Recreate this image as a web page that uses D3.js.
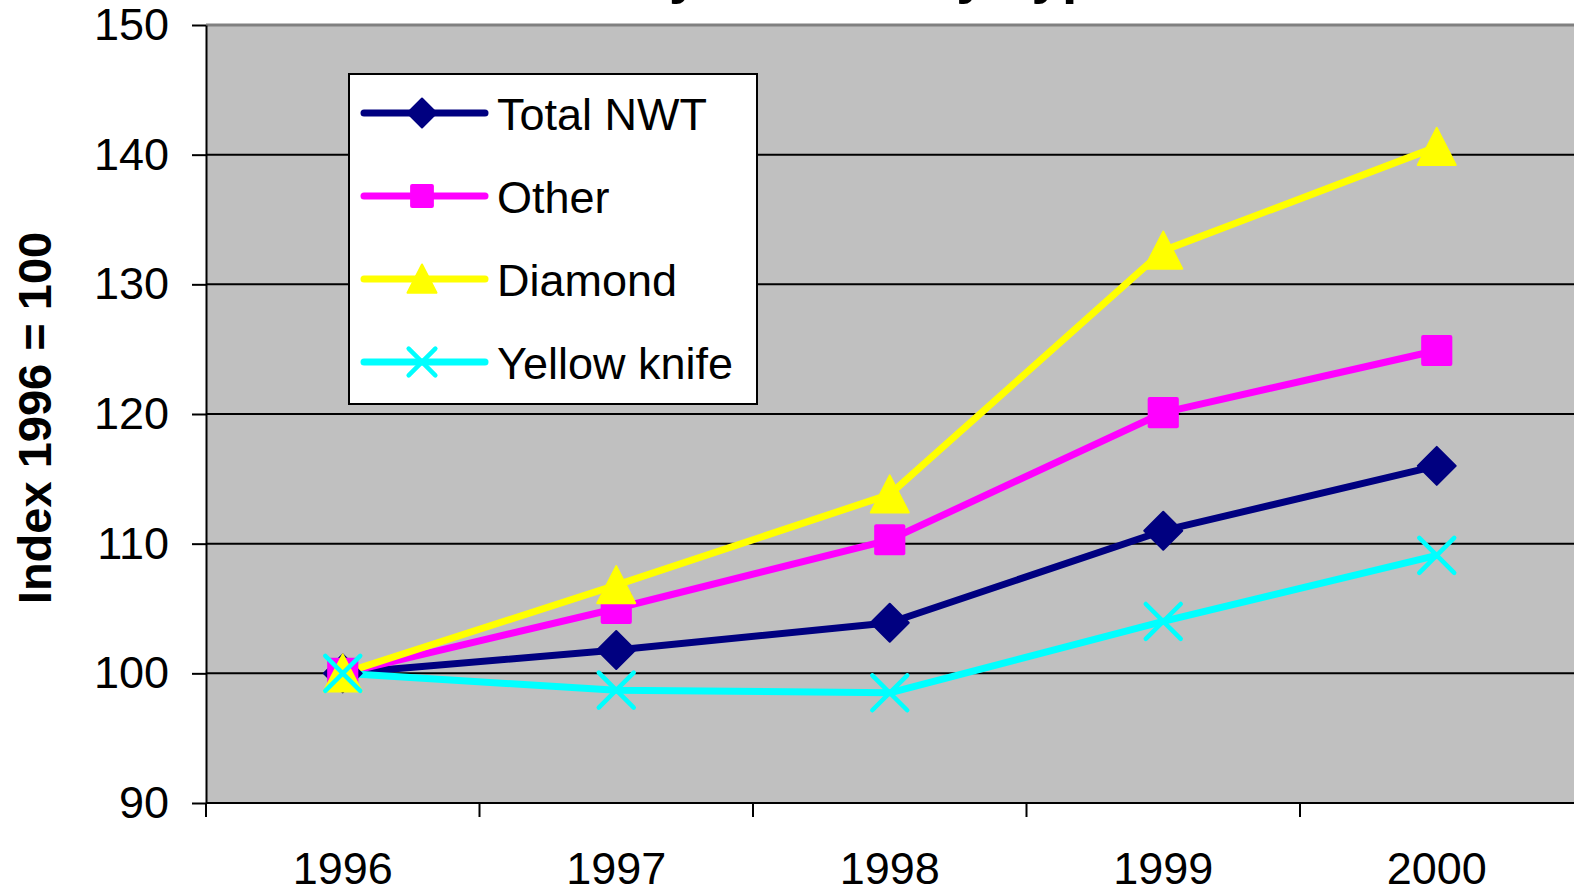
<!DOCTYPE html>
<html>
<head>
<meta charset="utf-8">
<script src="https://cdn.jsdelivr.net/npm/d3@7"></script>
<style>
  body { margin: 0; background: #fff; }
  svg { display: block; font-family: "Liberation Sans", Arial, sans-serif; }
</style>
</head>
<body>
<div id="chart"></div>
<script>
// ---- data ----
const years = ["1996", "1997", "1998", "1999", "2000"];
const yTicks = [90, 100, 110, 120, 130, 140, 150];

const totalNWT    = [100, 101.8, 103.9, 111.0, 116.0];
const other       = [100, 105.0, 110.3, 120.1, 124.9];
const diamond     = [100, 106.8, 113.8, 132.6, 140.6];
const yellowknife = [100, 98.7, 98.5, 104.0, 109.1];

const seriesNames = ["Total NWT", "Other", "Diamond", "Yellow knife"];
const seriesColors = ["#000080", "#FF00FF", "#FFFF00", "#00FFFF"];
const seriesMarkers = ["diamond", "square", "triangle", "cross"];

const series = [totalNWT, other, diamond, yellowknife].map((vals, i) => ({
  name: seriesNames[i],
  color: seriesColors[i],
  marker: seriesMarkers[i],
  values: vals.map((v, j) => ({ year: years[j], value: v }))
}));

const W = 1574, H = 892;
const plot = { left: 206, right: 1573.5, top: 25, bottom: 803 };

const svg = d3.select("#chart").append("svg")
  .attr("width", W)
  .attr("height", H);

// title (mostly cut off above the picture)
svg.append("text")
  .attr("x", 397)
  .attr("y", -8)
  .style("font-size", "55px")
  .style("font-weight", "bold")
  .text("Community Growth by Type");

/* -------------------- SCALES -------------------- */

const x = d3.scaleBand()
  .domain(years)
  .range([plot.left, plot.right])
  .padding(0);

const y = d3.scaleLinear()
  .domain([90, 150])
  .range([plot.bottom, plot.top]);

/* -------------------- PLOT AREA -------------------- */

svg.append("rect")
  .attr("x", plot.left)
  .attr("y", plot.top)
  .attr("width", W - plot.left + 10)
  .attr("height", plot.bottom - plot.top)
  .style("fill", "#C0C0C0");

// grey border along the top of the plot area
svg.append("line")
  .attr("x1", plot.left).attr("x2", W + 10)
  .attr("y1", plot.top).attr("y2", plot.top)
  .style("stroke", "#808080")
  .style("stroke-width", 3);

// gridlines
svg.append("g")
  .selectAll("line")
  .data(yTicks.filter(d => d > 90 && d < 150))
  .join("line")
  .attr("x1", plot.left).attr("x2", W + 10)
  .attr("y1", d => y(d)).attr("y2", d => y(d))
  .style("stroke", "#000")
  .style("stroke-width", 2);

/* -------------------- AXES -------------------- */

const yAxis = svg.append("g")
  .attr("transform", `translate(${plot.left}, 0)`)
  .call(d3.axisLeft(y).tickValues(yTicks).tickSize(14).tickSizeOuter(0).tickPadding(23));
yAxis.select(".domain").style("stroke", "#000").style("stroke-width", 2);
yAxis.selectAll(".tick line").style("stroke", "#000").style("stroke-width", 2);
yAxis.selectAll("text")
  .style("font-size", "45px")
  .style("font-family", "'Liberation Sans', Arial, sans-serif")
  .style("fill", "#000");

const xAxis = svg.append("g")
  .attr("transform", `translate(0, ${plot.bottom})`)
  .call(d3.axisBottom(x).tickSize(0).tickPadding(49));
xAxis.select(".domain").remove();
xAxis.selectAll("text")
  .style("font-size", "45px")
  .style("font-family", "'Liberation Sans', Arial, sans-serif")
  .style("fill", "#000");

// x axis line + category boundary ticks
svg.append("line")
  .attr("x1", plot.left).attr("x2", W + 10)
  .attr("y1", plot.bottom).attr("y2", plot.bottom)
  .style("stroke", "#000")
  .style("stroke-width", 2);

svg.append("g")
  .selectAll("line")
  .data(years)
  .join("line")
  .attr("x1", d => x(d)).attr("x2", d => x(d))
  .attr("y1", plot.bottom).attr("y2", plot.bottom + 14)
  .style("stroke", "#000")
  .style("stroke-width", 2);

// y axis title
svg.append("text")
  .attr("transform", "translate(51, 418) rotate(-90)")
  .attr("text-anchor", "middle")
  .style("font-size", "47px")
  .style("font-weight", "bold")
  .text("Index 1996 = 100");

/* -------------------- MARKERS -------------------- */

function drawMarker(g, type, color, s) {
  // s = half size of the marker box
  if (type === "diamond") {
    g.append("path")
      .attr("d", `M0,${-s}L${s},0L0,${s}L${-s},0Z`)
      .style("fill", color).style("stroke", color)
      .style("stroke-width", 2).style("stroke-linejoin", "round");
  } else if (type === "square") {
    const h = s * 0.82;
    g.append("rect")
      .attr("x", -h).attr("y", -h)
      .attr("width", 2 * h).attr("height", 2 * h)
      .attr("rx", 2)
      .style("fill", color);
  } else if (type === "triangle") {
    g.append("path")
      .attr("d", `M0,${-s}L${s},${s * 0.95}L${-s},${s * 0.95}Z`)
      .style("fill", color).style("stroke", color)
      .style("stroke-width", 2).style("stroke-linejoin", "round");
  } else {
    const h = s * 0.92;
    g.append("path")
      .attr("d", `M${-h},${-h}L${h},${h}M${-h},${h}L${h},${-h}`)
      .style("fill", "none").style("stroke", color)
      .style("stroke-width", 4.5).style("stroke-linecap", "round");
  }
}

/* -------------------- LINES -------------------- */

const line = d3.line()
  .x(d => x(d.year) + x.bandwidth() / 2)
  .y(d => y(d.value));

svg.append("g")
  .selectAll("path")
  .data(series)
  .join("path")
  .attr("d", d => line(d.values))
  .style("fill", "none")
  .style("stroke", d => d.color)
  .style("stroke-width", 7)
  .style("stroke-linejoin", "round");

series.forEach(s => {
  s.values.forEach(p => {
    const g = svg.append("g")
      .attr("transform", `translate(${x(p.year) + x.bandwidth() / 2}, ${y(p.value)})`);
    drawMarker(g, s.marker, s.color, 19);
  });
});

/* -------------------- LEGEND -------------------- */

const legend = svg.append("g").attr("transform", "translate(349, 74)");

legend.append("rect")
  .attr("width", 408)
  .attr("height", 330)
  .style("fill", "#fff")
  .style("stroke", "#000")
  .style("stroke-width", 2);

series.forEach((s, i) => {
  const cy = 39 + i * 83;
  const item = legend.append("g").attr("transform", `translate(0, ${cy})`);
  item.append("line")
    .attr("x1", 15).attr("x2", 136)
    .attr("y1", 0).attr("y2", 0)
    .style("stroke", s.color)
    .style("stroke-width", 7)
    .style("stroke-linecap", "round");
  const m = item.append("g").attr("transform", "translate(73, 0)");
  drawMarker(m, s.marker, s.color, 14.5);
  item.append("text")
    .attr("x", 148)
    .attr("y", 17)
    .style("font-size", "45px")
    .text(s.name);
});
</script>
</body>
</html>
